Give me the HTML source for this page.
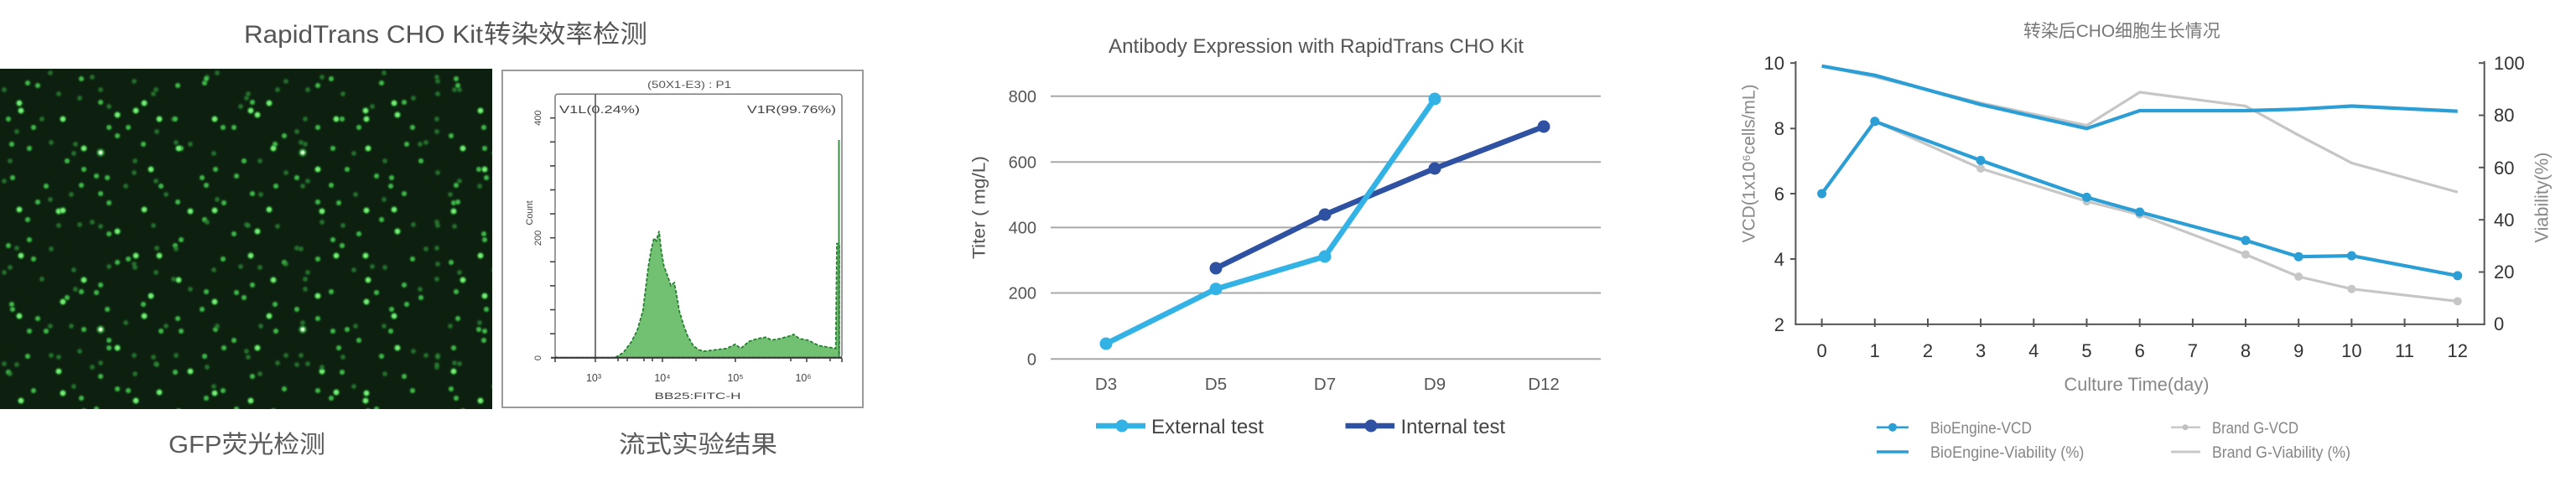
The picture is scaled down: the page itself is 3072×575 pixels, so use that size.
<!DOCTYPE html>
<html><head><meta charset="utf-8">
<style>
html,body{margin:0;padding:0;background:#fff;}
#wrap{position:relative;width:3072px;height:575px;overflow:hidden;background:#fff;}
#gfp{position:absolute;left:0;top:81.5px;width:587px;height:406px;
--A:rgba(120,240,120,.95) 0 2px, rgba(50,180,60,.55) 3.5px, transparent 5.2px;
--B:rgba(70,200,80,.85) 0 1.8px, rgba(40,140,50,.45) 3.2px, transparent 4.8px;
--C:rgba(45,140,55,.7) 0 1.6px, rgba(30,100,40,.3) 3.2px, transparent 4.8px;
background:
radial-gradient(circle at 120px 100px, rgba(230,255,230,.95) 0 1.5px, rgba(90,230,100,.7) 3px, rgba(40,160,50,.25) 5px, transparent 6.5px) 0 0/241px 211px,
radial-gradient(circle at 23px 41px, var(--A)) 0 0/149px 127px,
radial-gradient(circle at 97px 12px, var(--B)) 0 0/149px 127px,
radial-gradient(circle at 61px 88px, var(--C)) 0 0/149px 127px,
radial-gradient(circle at 130px 70px, var(--B)) 0 0/149px 127px,
radial-gradient(circle at 12px 110px, var(--C)) 0 0/149px 127px,
radial-gradient(circle at 45px 20px, var(--B)) 0 0/167px 139px,
radial-gradient(circle at 140px 55px, var(--A)) 0 0/167px 139px,
radial-gradient(circle at 88px 101px, var(--C)) 0 0/167px 139px,
radial-gradient(circle at 20px 75px, var(--C)) 0 0/167px 139px,
radial-gradient(circle at 115px 128px, var(--B)) 0 0/167px 139px,
radial-gradient(circle at 70px 30px, var(--C)) 0 0/113px 157px,
radial-gradient(circle at 15px 130px, var(--B)) 0 0/113px 157px,
radial-gradient(circle at 100px 95px, var(--A)) 0 0/113px 157px,
radial-gradient(circle at 40px 70px, var(--B)) 0 0/113px 157px,
radial-gradient(circle at 85px 150px, var(--C)) 0 0/113px 157px,
radial-gradient(circle at 160px 15px, var(--C)) 0 0/181px 109px,
radial-gradient(circle at 35px 95px, var(--B)) 0 0/181px 109px,
radial-gradient(circle at 120px 40px, var(--B)) 0 0/181px 109px,
radial-gradient(circle at 75px 60px, var(--A)) 0 0/181px 109px,
radial-gradient(circle at 5px 25px, var(--C)) 0 0/181px 109px,
radial-gradient(circle at 55px 140px, var(--B)) 0 0/137px 173px,
radial-gradient(circle at 110px 10px, var(--C)) 0 0/137px 173px,
radial-gradient(circle at 25px 50px, var(--A)) 0 0/137px 173px,
radial-gradient(circle at 90px 90px, var(--C)) 0 0/137px 173px,
radial-gradient(circle at 130px 160px, var(--B)) 0 0/137px 173px,
radial-gradient(circle at 180px 120px, var(--A)) 0 0/199px 151px,
radial-gradient(circle at 60px 5px, var(--C)) 0 0/199px 151px,
radial-gradient(circle at 140px 80px, var(--B)) 0 0/199px 151px,
radial-gradient(circle at 10px 60px, var(--B)) 0 0/199px 151px,
radial-gradient(circle at 95px 35px, var(--C)) 0 0/199px 151px,
radial-gradient(circle at 33px 17px, var(--B)) 0 0/211px 163px,
radial-gradient(circle at 150px 140px, var(--C)) 0 0/211px 163px,
radial-gradient(circle at 190px 60px, var(--A)) 0 0/211px 163px,
radial-gradient(circle at 80px 110px, var(--B)) 0 0/211px 163px,
radial-gradient(circle at 120px 25px, var(--C)) 0 0/211px 163px,
radial-gradient(circle at 14px 90px, var(--B)) 0 0/157px 191px,
radial-gradient(circle at 70px 170px, var(--A)) 0 0/157px 191px,
radial-gradient(circle at 130px 45px, var(--C)) 0 0/157px 191px,
radial-gradient(circle at 100px 120px, var(--B)) 0 0/157px 191px,
radial-gradient(circle at 50px 60px, var(--C)) 0 0/157px 191px,
#0d200f;}
svg{position:absolute;left:0;top:0;}
text{font-family:"Liberation Sans","Noto Sans CJK SC",sans-serif;}
.c3{font-family:"Liberation Sans","Noto Sans CJK SC",sans-serif;}
</style></head>
<body>
<div id="wrap">
<div id="gfp"></div>
<svg width="3072" height="575" viewBox="0 0 3072 575" xmlns="http://www.w3.org/2000/svg">

<!-- ================= Panel 1 ================= -->
<text x="291" y="51" font-size="30" fill="#555" textLength="285" lengthAdjust="spacingAndGlyphs">RapidTrans CHO Kit</text>
<text x="577" y="51" font-size="30" fill="#555" textLength="195" lengthAdjust="spacingAndGlyphs">转染效率检测</text>

<!-- flow box -->
<rect x="599" y="84" width="430" height="402" fill="#fff" stroke="#9a9a9a" stroke-width="2"/>
<rect x="662" y="112.3" width="342" height="314.4" rx="3" fill="none" stroke="#7a7a7a" stroke-width="1.5"/>
<text x="822" y="105" font-size="12" fill="#555" text-anchor="middle" textLength="100" lengthAdjust="spacingAndGlyphs">(50X1-E3) : P1</text>
<text x="667" y="135" font-size="12.5" fill="#444" textLength="96" lengthAdjust="spacingAndGlyphs">V1L(0.24%)</text>
<text x="997" y="135" font-size="12.5" fill="#444" text-anchor="end" textLength="106" lengthAdjust="spacingAndGlyphs">V1R(99.76%)</text>

<!-- histogram -->
<path d="M 662,426.7 L 733.3,426.7 L 743.3,420.7 L 753.3,407.3 L 760,394 L 766.7,370.7 L 770,344 L 773.3,317.3 L 776.7,297.3 L 780,284 L 782.7,287.3 L 786,275.7 L 788.3,297.3 L 791.7,317.3 L 796.7,330.7 L 800,340.7 L 804,337.3 L 806.7,350.7 L 810,370.7 L 815,387.3 L 820,400.7 L 826.7,412.3 L 833.3,417.3 L 840,419 L 853.3,417.3 L 866.7,415.7 L 876.7,410.7 L 883.3,415.7 L 893.3,407.3 L 903.3,404 L 913.3,402.3 L 920,405.7 L 930,404 L 940,401.3 L 946.7,399 L 953.3,404 L 963.3,405.7 L 970,409 L 976.7,412.3 L 986.7,414 L 996.7,415.7 L 998,290.7 L 1001,290.7 L 1001,426.7 Z" fill="#72c072" stroke="#23802f" stroke-width="1.8" stroke-dasharray="4 2"/>
<line x1="1000.5" y1="426.7" x2="1000.5" y2="167" stroke="#3a8f44" stroke-width="2"/>
<!-- gate line -->
<line x1="710" y1="112.3" x2="710" y2="427" stroke="#555" stroke-width="1.6"/>
<!-- axes -->
<line x1="657" y1="426.7" x2="1004" y2="426.7" stroke="#333" stroke-width="2"/>
<g stroke="#444" stroke-width="1.6">
<line x1="656" y1="140.7" x2="662" y2="140.7"/><line x1="656" y1="169.3" x2="662" y2="169.3"/>
<line x1="656" y1="197.9" x2="662" y2="197.9"/><line x1="656" y1="226.5" x2="662" y2="226.5"/>
<line x1="656" y1="255.1" x2="662" y2="255.1"/><line x1="656" y1="283.7" x2="662" y2="283.7"/>
<line x1="656" y1="312.3" x2="662" y2="312.3"/><line x1="656" y1="340.9" x2="662" y2="340.9"/>
<line x1="656" y1="369.5" x2="662" y2="369.5"/><line x1="656" y1="398.1" x2="662" y2="398.1"/>
<line x1="662" y1="427" x2="662" y2="432"/><line x1="710" y1="427" x2="710" y2="432"/>
<line x1="737" y1="427" x2="737" y2="431"/><line x1="748" y1="427" x2="748" y2="431"/>
<line x1="768" y1="427" x2="768" y2="431"/><line x1="778" y1="427" x2="778" y2="431"/>
<line x1="790" y1="427" x2="790" y2="432"/><line x1="830" y1="427" x2="830" y2="431"/>
<line x1="877" y1="427" x2="877" y2="432"/><line x1="943" y1="427" x2="943" y2="431"/>
<line x1="962" y1="427" x2="962" y2="432"/><line x1="990" y1="427" x2="990" y2="431"/>
<line x1="1004" y1="427" x2="1004" y2="432"/>
</g>
<g font-size="11" fill="#444">
<text transform="translate(642,140.7) rotate(-90)" text-anchor="middle" dominant-baseline="central">400</text>
<text transform="translate(642,284) rotate(-90)" text-anchor="middle" dominant-baseline="central">200</text>
<text transform="translate(642,427) rotate(-90)" text-anchor="middle" dominant-baseline="central">0</text>
<text transform="translate(632,254) rotate(-90)" text-anchor="middle" dominant-baseline="central">Count</text>
</g>
<g font-size="12.5" fill="#444" text-anchor="middle">
<text x="708" y="455">10³</text><text x="790" y="455">10⁴</text>
<text x="877" y="455">10⁵</text><text x="958" y="455">10⁶</text>
</g>
<text x="832" y="476" font-size="11" fill="#444" text-anchor="middle" textLength="103" lengthAdjust="spacingAndGlyphs">BB25:FITC-H</text>

<!-- captions -->
<text x="201" y="540" font-size="29" fill="#5a5a5a" textLength="187" lengthAdjust="spacingAndGlyphs">GFP荧光检测</text>
<text x="738" y="540" font-size="29" fill="#5a5a5a" textLength="189" lengthAdjust="spacingAndGlyphs">流式实验结果</text>

<!-- ================= Panel 2 ================= -->
<text x="1322" y="63" font-size="24" fill="#555" textLength="495" lengthAdjust="spacingAndGlyphs">Antibody Expression with RapidTrans CHO Kit</text>
<g stroke="#a8a8a8" stroke-width="2">
<line x1="1253" y1="114.8" x2="1909" y2="114.8"/>
<line x1="1253" y1="193.3" x2="1909" y2="193.3"/>
<line x1="1253" y1="271.4" x2="1909" y2="271.4"/>
<line x1="1253" y1="349.5" x2="1909" y2="349.5"/>
<line x1="1253" y1="428.3" x2="1909" y2="428.3"/>
</g>
<g font-size="20" fill="#555" text-anchor="end">
<text x="1236" y="122">800</text><text x="1236" y="200.5">600</text>
<text x="1236" y="278.5">400</text><text x="1236" y="356.5">200</text>
<text x="1236" y="435.5">0</text>
</g>
<g font-size="20.5" fill="#555" text-anchor="middle">
<text x="1319" y="465">D3</text><text x="1450" y="465">D5</text>
<text x="1580" y="465">D7</text><text x="1711" y="465">D9</text>
<text x="1841" y="465">D12</text>
</g>
<text transform="translate(1168,247.5) rotate(-90)" font-size="21" fill="#555" text-anchor="middle" dominant-baseline="central" textLength="123" lengthAdjust="spacingAndGlyphs">Titer ( mg/L)</text>

<polyline points="1450,320 1580,256 1711,201 1841,151" fill="none" stroke="#2e51a2" stroke-width="6.5" stroke-linejoin="round"/>
<g fill="#2e51a2"><circle cx="1450" cy="320" r="7.5"/><circle cx="1580" cy="256" r="7.5"/><circle cx="1711" cy="201" r="7.5"/><circle cx="1841" cy="151" r="7.5"/></g>
<polyline points="1319,410 1450,344.7 1580,306 1711,118" fill="none" stroke="#33b2e6" stroke-width="6.5" stroke-linejoin="round"/>
<g fill="#33b2e6"><circle cx="1319" cy="410" r="7.5"/><circle cx="1450" cy="344.7" r="7.5"/><circle cx="1580" cy="306" r="7.5"/><circle cx="1711" cy="118" r="7.5"/></g>

<line x1="1307" y1="508" x2="1366" y2="508" stroke="#33b2e6" stroke-width="6.5"/>
<circle cx="1338" cy="508" r="7.5" fill="#33b2e6"/>
<text x="1373" y="517" font-size="24" fill="#444" textLength="134" lengthAdjust="spacingAndGlyphs">External test</text>
<line x1="1604.5" y1="508" x2="1663" y2="508" stroke="#2e51a2" stroke-width="6.5"/>
<circle cx="1635" cy="508" r="7.5" fill="#2e51a2"/>
<text x="1670.5" y="517" font-size="24" fill="#444" textLength="124.5" lengthAdjust="spacingAndGlyphs">Internal test</text>

<!-- ================= Panel 3 ================= -->
<text x="2413" y="44" font-size="21" fill="#777" textLength="234.6" lengthAdjust="spacingAndGlyphs">转染后CHO细胞生长情况</text>

<g stroke="#555" stroke-width="2" fill="none">
<line x1="2141.4" y1="73" x2="2141.4" y2="387.9"/>
<line x1="2140.4" y1="386.9" x2="2963.7" y2="386.9"/>
<line x1="2962.7" y1="73" x2="2962.7" y2="387.9"/>
<line x1="2135" y1="75.2" x2="2141.4" y2="75.2"/><line x1="2135" y1="153.3" x2="2141.4" y2="153.3"/>
<line x1="2135" y1="231" x2="2141.4" y2="231"/><line x1="2135" y1="309" x2="2141.4" y2="309"/>
<line x1="2956" y1="75.2" x2="2962.7" y2="75.2"/><line x1="2956" y1="137.5" x2="2962.7" y2="137.5"/>
<line x1="2956" y1="199.8" x2="2962.7" y2="199.8"/><line x1="2956" y1="262.2" x2="2962.7" y2="262.2"/>
<line x1="2956" y1="324.5" x2="2962.7" y2="324.5"/>
<line x1="2172.6" y1="380" x2="2172.6" y2="390"/><line x1="2235.8" y1="380" x2="2235.8" y2="390"/>
<line x1="2299" y1="380" x2="2299" y2="390"/><line x1="2362.1" y1="380" x2="2362.1" y2="390"/>
<line x1="2425.3" y1="380" x2="2425.3" y2="390"/><line x1="2488.5" y1="380" x2="2488.5" y2="390"/>
<line x1="2551.7" y1="380" x2="2551.7" y2="390"/><line x1="2614.9" y1="380" x2="2614.9" y2="390"/>
<line x1="2678" y1="380" x2="2678" y2="390"/><line x1="2741.2" y1="380" x2="2741.2" y2="390"/>
<line x1="2804.4" y1="380" x2="2804.4" y2="390"/><line x1="2867.6" y1="380" x2="2867.6" y2="390"/>
<line x1="2930.8" y1="380" x2="2930.8" y2="390"/>
</g>
<g class="c3" font-size="22" fill="#333" text-anchor="end">
<text x="2128" y="83">10</text><text x="2128" y="161">8</text><text x="2128" y="239">6</text>
<text x="2128" y="317">4</text><text x="2128" y="395">2</text>
</g>
<g class="c3" font-size="22" fill="#333">
<text x="2974" y="83">100</text><text x="2974" y="145">80</text><text x="2974" y="208">60</text>
<text x="2974" y="270">40</text><text x="2974" y="332">20</text><text x="2974" y="394">0</text>
</g>
<g class="c3" font-size="22" fill="#333" text-anchor="middle">
<text x="2172.6" y="426">0</text><text x="2235.8" y="426">1</text><text x="2299" y="426">2</text>
<text x="2362.1" y="426">3</text><text x="2425.3" y="426">4</text><text x="2488.5" y="426">5</text>
<text x="2551.7" y="426">6</text><text x="2614.9" y="426">7</text><text x="2678" y="426">8</text>
<text x="2741.2" y="426">9</text><text x="2804.4" y="426">10</text><text x="2867.6" y="426">11</text>
<text x="2930.8" y="426">12</text>
</g>
<text class="c3" x="2461.5" y="466" font-size="22" fill="#888" textLength="173" lengthAdjust="spacingAndGlyphs">Culture Time(day)</text>
<text class="c3" transform="translate(2086,195) rotate(-90)" font-size="21" fill="#888" text-anchor="middle" dominant-baseline="central" textLength="189" lengthAdjust="spacingAndGlyphs">VCD(1x10⁶cells/mL)</text>
<text class="c3" transform="translate(3031,235.6) rotate(-90)" font-size="22" fill="#888" text-anchor="middle" dominant-baseline="central" textLength="108" lengthAdjust="spacingAndGlyphs">Viability(%)</text>

<!-- gray series -->
<polyline points="2172.6,78.8 2235.8,91.7 2362.1,122.8 2488.5,149.6 2551.7,110 2678,126.5 2741.2,161.3 2804.4,194.4 2930.8,229.2" fill="none" stroke="#c6c6c6" stroke-width="3.2" stroke-linejoin="round"/>
<polyline points="2235.8,144.8 2362.1,201 2488.5,240.2 2551.7,256 2678,303.6 2741.2,330 2804.4,344.7 2930.8,359.4" fill="none" stroke="#c6c6c6" stroke-width="3.2" stroke-linejoin="round"/>
<g fill="#c6c6c6"><circle cx="2362.1" cy="201" r="5"/><circle cx="2488.5" cy="240.2" r="5"/><circle cx="2551.7" cy="256" r="5"/><circle cx="2678" cy="303.6" r="5"/><circle cx="2741.2" cy="330" r="5"/><circle cx="2804.4" cy="344.7" r="5"/><circle cx="2930.8" cy="359.4" r="5"/></g>
<!-- blue series -->
<polyline points="2172.6,78.8 2235.8,89.8 2362.1,124.7 2488.5,153.3 2551.7,132 2678,132 2741.2,130.2 2804.4,126.5 2930.8,132.7" fill="none" stroke="#2b9ed6" stroke-width="4.2" stroke-linejoin="round"/>
<polyline points="2172.6,231 2235.8,144.8 2362.1,191.4 2488.5,235.4 2551.7,253 2678,286.8 2741.2,306.2 2804.4,305.1 2930.8,328.9" fill="none" stroke="#2b9ed6" stroke-width="4.2" stroke-linejoin="round"/>
<g fill="#2b9ed6"><circle cx="2172.6" cy="231" r="5.5"/><circle cx="2235.8" cy="144.8" r="5.5"/><circle cx="2362.1" cy="191.4" r="5.5"/><circle cx="2488.5" cy="235.4" r="5.5"/><circle cx="2551.7" cy="253" r="5.5"/><circle cx="2678" cy="286.8" r="5.5"/><circle cx="2741.2" cy="306.2" r="5.5"/><circle cx="2804.4" cy="305.1" r="5.5"/><circle cx="2930.8" cy="328.9" r="5.5"/></g>

<!-- legend -->
<line x1="2238" y1="509.7" x2="2276" y2="509.7" stroke="#2b9ed6" stroke-width="2.5"/>
<circle cx="2257" cy="509.7" r="5" fill="#2b9ed6"/>
<text class="c3" x="2302" y="517" font-size="19" fill="#858585" textLength="121" lengthAdjust="spacingAndGlyphs">BioEngine-VCD</text>
<line x1="2238" y1="539" x2="2276" y2="539" stroke="#2b9ed6" stroke-width="3.5"/>
<text class="c3" x="2302" y="546" font-size="19" fill="#858585" textLength="183.4" lengthAdjust="spacingAndGlyphs">BioEngine-Viability (%)</text>
<line x1="2589" y1="509.7" x2="2624" y2="509.7" stroke="#c8c8c8" stroke-width="2.5"/>
<circle cx="2606" cy="509.7" r="3.5" fill="#c0c0c0"/>
<text class="c3" x="2638" y="517" font-size="19" fill="#858585" textLength="103" lengthAdjust="spacingAndGlyphs">Brand G-VCD</text>
<line x1="2589" y1="539" x2="2624" y2="539" stroke="#c8c8c8" stroke-width="3"/>
<text class="c3" x="2638" y="546" font-size="19" fill="#858585" textLength="165" lengthAdjust="spacingAndGlyphs">Brand G-Viability (%)</text>
</svg>
</div>
</body></html>
